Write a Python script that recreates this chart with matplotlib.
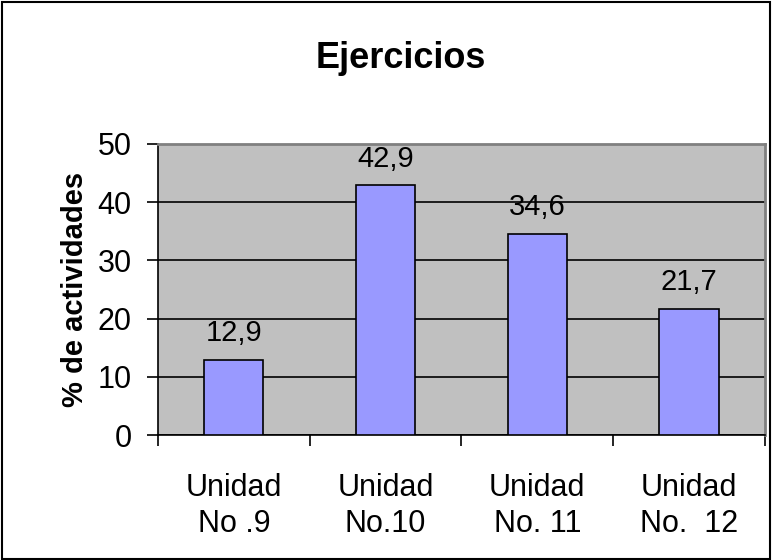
import numpy as np
import matplotlib.pyplot as plt
from matplotlib.patches import Rectangle

plt.rcParams['font.family'] = ['Liberation Sans', 'DejaVu Sans']

# data
categories = ['Unidad\nNo .9', 'Unidad\nNo.10', 'Unidad\nNo. 11', 'Unidad\nNo.  12']
values = [12.9, 42.9, 34.6, 21.7]
value_labels = ['12,9', '42,9', '34,6', '21,7']

fig = plt.figure(figsize=(7.72, 5.6), dpi=100)
ax = fig.add_axes([0.2047, 0.2232, 0.786, 0.5197])

x = np.arange(len(categories))
ax.bar(x, values, width=0.39, color='#9999FF', edgecolor='black', linewidth=1.2, zorder=3)

for xi, v, lab in zip(x, values, value_labels):
    ax.annotate(lab, (xi, v), xytext=(0, 9), textcoords='offset points',
                ha='center', va='bottom', fontsize=21)

ax.set_facecolor('#C0C0C0')
ax.set_xlim(-0.5, len(categories) - 0.5)
ax.set_ylim(0, 50)
ax.set_yticks(np.arange(0, 51, 10))
ax.yaxis.grid(True, color='black', linewidth=1.2, zorder=1)
ax.set_axisbelow(True)

# ticks at category boundaries, labels centered
ax.set_xticks(np.arange(-0.5, len(categories), 1.0))
ax.set_xticklabels([])
ax.set_xticks(x, minor=True)
ax.set_xticklabels(categories, minor=True, fontsize=22, linespacing=1.3)
ax.tick_params(axis='x', which='minor', length=0, pad=27)
ax.tick_params(axis='x', which='major', direction='out', length=8, width=1.2)
ax.tick_params(axis='y', direction='out', length=8, width=1.2, labelsize=22, pad=11)

for s in ['left', 'bottom']:
    ax.spines[s].set_color('black')
    ax.spines[s].set_linewidth(1.2)
for s in ['top', 'right']:
    ax.spines[s].set_color('#808080')
    ax.spines[s].set_linewidth(2)

ax.set_ylabel('% de actividades', fontsize=21, fontweight='bold', labelpad=6)
fig.text(0.519, 0.895, 'Ejercicios', ha='center', va='center', fontsize=26, fontweight='bold')

# outer border
fig.patches.append(Rectangle((0.002, 0.002), 0.996, 0.995, transform=fig.transFigure,
                             fill=False, edgecolor='black', linewidth=1.5))

fig.savefig('out.png', dpi=100)
